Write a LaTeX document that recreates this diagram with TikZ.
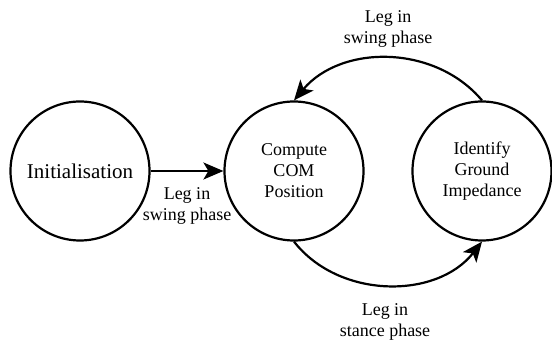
\documentclass[tikz,border=0pt]{standalone}
\usepackage{fontspec}
\setmainfont{Liberation Serif}
\usetikzlibrary{arrows.meta}
\begin{document}
\begin{tikzpicture}[x=1pt,y=-1pt,
 state/.style={circle, draw, line width=2.2pt, minimum size=139pt, inner sep=0pt, align=center, font=\fontsize{18}{21}\selectfont},
 lbl/.style={align=center, font=\fontsize{18}{21}\selectfont},
 arr/.style={line width=2.2pt, -{Stealth[length=20pt,width=17pt,inset=5pt]}}]
\useasboundingbox (0,0) rectangle (552,344);
\node[state, font=\fontsize{21}{25}\selectfont] (init) at (80,171) {Initialisation};
\node[state] (com) at (294,171) {Compute\\COM\\Position};
\node[state] (gi) at (482,171) {Identify\\Ground\\Impedance};
\draw[arr] (init) -- (com);
\draw[arr] (gi.north) to[bend right=50] (com.north);
\draw[arr] (com.south) to[bend right=52] (gi.south);
\node[lbl] (l1) at (187,206) {Leg in\\swing phase};
\node[lbl] (l2) at (388,29) {Leg in\\swing phase};
\node[lbl] (l3) at (385,322) {Leg in\\stance phase};
\end{tikzpicture}
\end{document}
